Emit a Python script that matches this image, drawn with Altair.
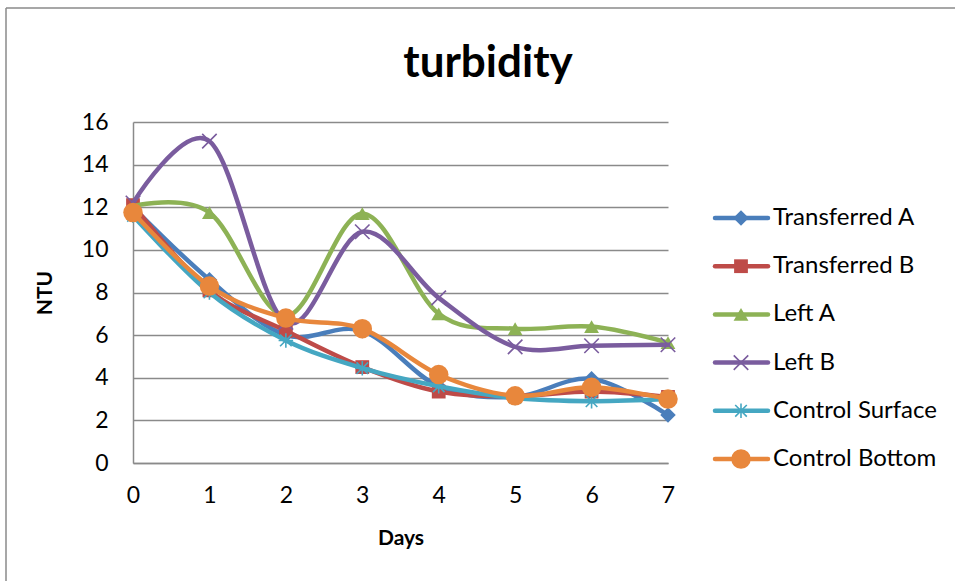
import altair as alt
import pandas as pd

# Turbidity readings (NTU) over eight days for six sampling positions
days = [0, 1, 2, 3, 4, 5, 6, 7]
series_names = [
    "Transferred A",
    "Transferred B",
    "Left A",
    "Left B",
    "Control Surface",
    "Control Bottom",
]
transferred_a = [12.0, 8.6, 6.0, 6.2, 3.6, 3.1, 3.95, 2.25]
transferred_b = [12.1, 8.1, 6.2, 4.5, 3.35, 3.15, 3.35, 3.1]
left_a = [12.05, 11.75, 6.9, 11.7, 7.0, 6.3, 6.4, 5.65]
left_b = [12.2, 15.1, 6.6, 10.85, 7.75, 5.45, 5.5, 5.55]
control_surface = [11.6, 8.0, 5.75, 4.45, 3.6, 3.05, 2.9, 3.0]
control_bottom = [11.75, 8.3, 6.8, 6.3, 4.15, 3.15, 3.55, 3.0]
y_ticks = [0, 2, 4, 6, 8, 10, 12, 14, 16]
chart_title = ["turbidity"]

values = [transferred_a, transferred_b, left_a, left_b, control_surface, control_bottom]

colors = ["#4A7EBB", "#BE4B48", "#8DB255", "#7A5C9E", "#45A7C2", "#E8873C"]

X_PATH = "M-1,-1L1,1M-1,1L1,-1"
STAR_PATH = "M0,-1L0,1M-0.8,-0.8L0.8,0.8M-0.8,0.8L0.8,-0.8M-1,0L1,0"

# marker style per series: (shape, size, filled)
markers = [
    ("diamond", 240, True),
    ("square", 190, True),
    ("triangle-up", 220, True),
    (X_PATH, 210, False),
    (STAR_PATH, 210, False),
    ("circle", 380, True),
]

rows = []
for name, vals in zip(series_names, values):
    for d, v in zip(days, vals):
        rows.append({"series": name, "day": d, "ntu": v})
df = pd.DataFrame(rows)
legend_df = pd.DataFrame({"series": series_names})
title_df = pd.DataFrame({"title": chart_title})

FONT = "Lato"
W, H = 535, 341

x_enc = alt.X(
    "day:Q",
    scale=alt.Scale(domain=[0, 7], nice=False, zero=False),
    axis=alt.Axis(
        values=days, format="d", title="Days", grid=False,
        labelPadding=21, titlePadding=20,
    ),
)
y_axis = alt.Axis(
    values=y_ticks, format="d", title="NTU", grid=True,
    labelPadding=25, titlePadding=26,
)
y_scale = alt.Scale(domain=[0, 16], nice=False)

data_layers = []
for i, name in enumerate(series_names):
    sub = df[df["series"] == name]
    shape, size, filled = markers[i]
    line = alt.Chart(sub).mark_line(
        interpolate="cardinal", strokeWidth=4.5, color=colors[i], strokeCap="round"
    ).encode(
        x=x_enc,
        y=alt.Y("ntu:Q", scale=y_scale, axis=y_axis),
    )
    pts = alt.Chart(sub).mark_point(
        shape=shape, size=size, filled=filled, opacity=1,
        color=colors[i], strokeWidth=1.6 if not filled else 1,
    ).encode(
        x=x_enc,
        y=alt.Y("ntu:Q", scale=y_scale, axis=y_axis),
    )
    data_layers += [line, pts]

# Legend: a line swatch with the series marker, one row per series
leg_y = alt.Y(
    "series:N",
    sort=series_names,
    scale=alt.Scale(type="point", domain=series_names, range=[96, 337], padding=0),
    axis=None,
)
legend_layers = []
for i, name in enumerate(series_names):
    sub = legend_df[legend_df["series"] == name]
    shape, size, filled = markers[i]
    legend_layers.append(
        alt.Chart(sub).mark_rule(strokeWidth=4.5, color=colors[i], strokeCap="round").encode(
            x=alt.value(582), x2=alt.value(635), y=leg_y
        )
    )
    legend_layers.append(
        alt.Chart(sub).mark_point(
            shape=shape, size=size, filled=filled, opacity=1,
            color=colors[i], strokeWidth=1.6 if not filled else 1,
        ).encode(x=alt.value(608), y=leg_y)
    )
legend_layers.append(
    alt.Chart(legend_df).mark_text(
        align="left", baseline="middle", font=FONT, fontSize=24, color="black"
    ).encode(x=alt.value(640), y=leg_y, text="series:N")
)

# Chart title
title_mark = alt.Chart(title_df).mark_text(
    align="center", baseline="alphabetic", font=FONT, fontSize=44,
    fontWeight="bold", color="black",
).encode(x=alt.value(355), y=alt.value(-45), text="title:N")

# Outer frame of the chart area
frame = alt.Chart(title_df).mark_rule(color="#8a8a8a", strokeWidth=1.5)
frame_top = frame.encode(x=alt.value(-127), x2=alt.value(830), y=alt.value(-114))
frame_left = frame.encode(x=alt.value(-127), y=alt.value(-114), y2=alt.value(470))

chart = (
    alt.layer(
        alt.layer(*data_layers),
        alt.layer(*legend_layers),
        title_mark,
        frame_top,
        frame_left,
    )
    .resolve_scale(y="independent")
    .properties(
        width=W,
        height=H,
        autosize=alt.AutoSizeParams(type="none"),
        padding={"left": 133, "top": 122, "right": 287, "bottom": 118},
        background="white",
    )
    .configure_view(stroke=None)
    .configure_axis(
        domainColor="#8a8a8a",
        domainWidth=1.5,
        gridColor="#8a8a8a",
        gridWidth=1.5,
        ticks=False,
        tickSize=0,
        labelFlush=False,
        labelFont=FONT,
        labelFontSize=23,
        labelColor="black",
        titleFont=FONT,
        titleFontSize=21,
        titleFontWeight="bold",
        titleColor="black",
    )
)

chart.save("out.html", embed_options={"renderer": "svg", "actions": False})
